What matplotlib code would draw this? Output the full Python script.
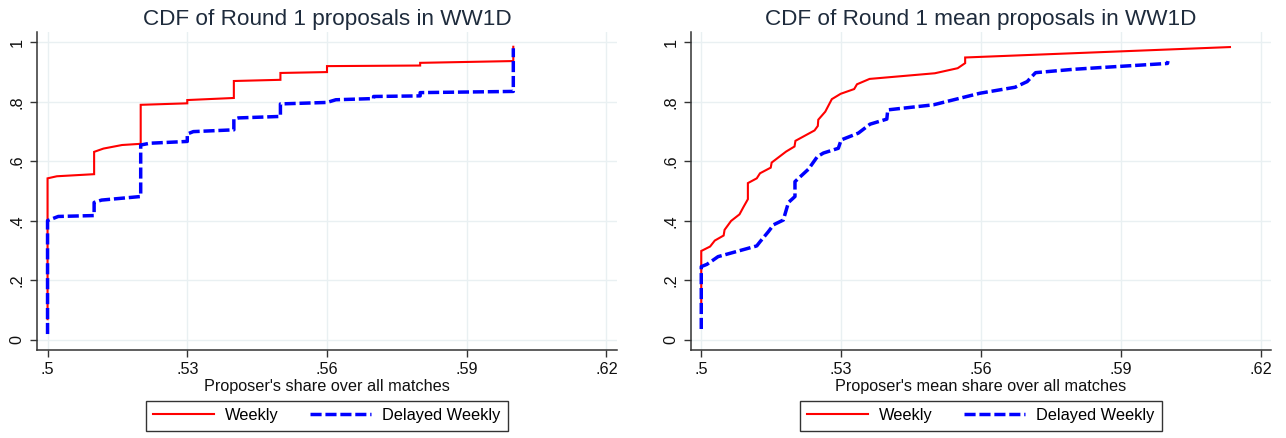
import matplotlib
matplotlib.use("Agg")
import matplotlib.pyplot as plt

# ---------------- data ----------------
titles = ["CDF of Round 1 proposals in WW1D", "CDF of Round 1 mean proposals in WW1D"]
xlabels = ["Proposer's share over all matches", "Proposer's mean share over all matches"]
series_names = ["Weekly", "Delayed Weekly"]
xtick_vals = [0.50, 0.53, 0.56, 0.59, 0.62]
xtick_labels = [".5", ".53", ".56", ".59", ".62"]
ytick_vals = [0, 0.2, 0.4, 0.6, 0.8, 1.0]
ytick_labels = ["0", ".2", ".4", ".6", ".8", "1"]

# Left panel: Round 1 proposals
left_weekly_x = [0.5, 0.5, 0.502, 0.51, 0.51, 0.512, 0.516, 0.52, 0.52, 0.53, 0.53,
                 0.54, 0.54, 0.55, 0.55, 0.56, 0.56, 0.58, 0.58, 0.60, 0.60]
left_weekly_y = [0.07, 0.543, 0.550, 0.557, 0.632, 0.643, 0.655, 0.659, 0.790, 0.795, 0.806,
                 0.813, 0.870, 0.874, 0.897, 0.900, 0.920, 0.922, 0.931, 0.937, 0.985]
left_delayed_x = [0.5, 0.5, 0.5023, 0.51, 0.51, 0.5116, 0.52, 0.52, 0.522, 0.53, 0.53,
                  0.5313, 0.54, 0.54, 0.541, 0.55, 0.55, 0.56, 0.5619, 0.57, 0.57,
                  0.58, 0.58, 0.60, 0.60]
left_delayed_y = [0.02, 0.401, 0.415, 0.418, 0.462, 0.470, 0.482, 0.655, 0.661, 0.667, 0.692,
                  0.700, 0.706, 0.742, 0.746, 0.751, 0.793, 0.798, 0.807, 0.811, 0.818,
                  0.820, 0.831, 0.835, 0.980]

# Right panel: Round 1 mean proposals
right_weekly_x = [0.5, 0.5, 0.5019, 0.5029, 0.5048, 0.505, 0.5064, 0.5082, 0.5091, 0.510,
                  0.510, 0.5119, 0.5126, 0.5149, 0.5151, 0.5182, 0.520, 0.5202, 0.5243,
                  0.525, 0.5251, 0.5266, 0.528, 0.5299, 0.5328, 0.5334, 0.5361, 0.5501,
                  0.555, 0.5566, 0.5566, 0.6134]
right_weekly_y = [0.10, 0.299, 0.314, 0.334, 0.351, 0.370, 0.400, 0.422, 0.448, 0.473,
                  0.527, 0.543, 0.560, 0.579, 0.596, 0.633, 0.650, 0.669, 0.704,
                  0.719, 0.740, 0.767, 0.809, 0.827, 0.843, 0.859, 0.877, 0.896,
                  0.913, 0.930, 0.949, 0.984]
right_delayed_x = [0.5, 0.5, 0.5012, 0.5026, 0.5036, 0.5119, 0.5126, 0.5144, 0.5155, 0.5176,
                   0.5187, 0.5201, 0.5201, 0.523, 0.5249, 0.5262, 0.5294, 0.530, 0.5337,
                   0.5362, 0.5398, 0.540, 0.5498, 0.5598, 0.5673, 0.5699, 0.5717, 0.5796,
                   0.5855, 0.600, 0.6001]
right_delayed_y = [0.037, 0.2465, 0.254, 0.269, 0.280, 0.316, 0.330, 0.364, 0.387, 0.403,
                   0.462, 0.482, 0.532, 0.574, 0.616, 0.628, 0.644, 0.672, 0.695,
                   0.725, 0.742, 0.773, 0.790, 0.829, 0.849, 0.868, 0.898, 0.909,
                   0.915, 0.929, 0.937]

panels = [
    (left_weekly_x, left_weekly_y, left_delayed_x, left_delayed_y),
    (right_weekly_x, right_weekly_y, right_delayed_x, right_delayed_y),
]

# ---------------- style ----------------
plt.rcParams['font.family'] = ['Liberation Sans', 'DejaVu Sans']
W, H = 1286, 438
fig = plt.figure(figsize=(W / 100, H / 100), dpi=100)
fig.patch.set_facecolor('white')

axes_px = [(37.3, 32.3, 616.7, 350.0), (691.0, 32.3, 1271.0, 350.0)]
spine_col = '#333333'
grid_col = '#e9f0f2'
title_col = '#1e2b3c'

for i, (ax_px, data) in enumerate(zip(axes_px, panels)):
    l, t, r, b = ax_px
    ax = fig.add_axes([l / W, 1 - b / H, (r - l) / W, (b - t) / H])
    wx, wy, dx, dy = data
    ax.set_xlim(0.4978, 0.6222)
    ax.set_ylim(-0.0336, 1.0336)
    for xv in xtick_vals:
        ax.axvline(xv, color=grid_col, lw=1.0, zorder=0)
    for yv in ytick_vals:
        ax.axhline(yv, color=grid_col, lw=1.0, zorder=0)
    lw_, = ax.plot(wx, wy, color='#ff0000', lw=1.5, zorder=2, label=series_names[0],
                   solid_joinstyle='miter')
    ld_, = ax.plot(dx, dy, color='#0000ff', lw=2.5, zorder=3, label=series_names[1],
                   dashes=(3.2, 1.1))
    ax.set_xticks(xtick_vals)
    ax.set_xticklabels(xtick_labels)
    ax.set_yticks(ytick_vals)
    ax.set_yticklabels(ytick_labels, rotation=90, va='center')
    ax.tick_params(axis='both', direction='out', length=5, width=1.0, color=spine_col,
                   labelsize=11.7, labelcolor='#111111', pad=4)
    for s in ['top', 'right']:
        ax.spines[s].set_visible(False)
    for s in ['left', 'bottom']:
        ax.spines[s].set_color(spine_col)
        ax.spines[s].set_linewidth(1.1)
    ax.set_title(titles[i], fontsize=16.2, color=title_col, pad=5)
    ax.set_xlabel(xlabels[i], fontsize=11.7, color='#111111', labelpad=1)
    cx = ((l + r) / 2) / W
    leg = fig.legend(handles=[lw_, ld_], loc='center', bbox_to_anchor=(cx, 1 - 415.7 / H),
                     ncol=2, fontsize=11.8, frameon=True, fancybox=False,
                     edgecolor='#333333', framealpha=1, handlelength=3.7,
                     handletextpad=0.7, columnspacing=1.9, borderpad=0.45)
    leg.get_frame().set_linewidth(1.0)

fig.savefig('out.png', dpi=100, facecolor='white')
